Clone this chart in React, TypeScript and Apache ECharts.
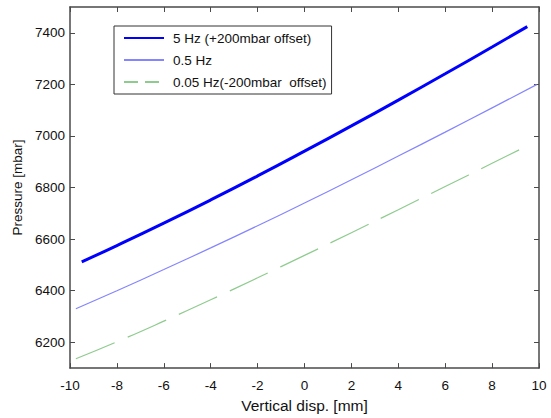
import React, { useEffect, useRef } from "react";
import * as echarts from "echarts";

const xFast = [-9.5, -8, -6, -4, -2, 0, 2, 4, 6, 8, 9.5];
const pFast = [6512, 6575, 6662, 6752, 6845, 6941, 7039, 7139, 7241, 7345, 7424];
const xMid = [-9.75, -8, -6, -4, -2, 0, 2, 4, 6, 8, 9.9];
const pMid = [6330, 6400, 6482, 6566, 6652, 6740, 6830, 6922, 7015, 7109, 7199];
const xSlow = [-9.75, -8, -6, -4, -2, 0, 2, 4, 6, 8, 9.35];
const pSlow = [6136, 6202, 6282, 6365, 6450, 6537, 6625, 6714, 6804, 6894, 6955];

const seriesNames = ["5 Hz (+200mbar offset)", "0.5 Hz", "0.05 Hz(-200mbar  offset)"];
const yTicks = [6200, 6400, 6600, 6800, 7000, 7200, 7400];

const FONT = "Liberation Sans, Arial, Helvetica, sans-serif";
const AX = "#4a4a4a";

export default function App() {
  const ref = useRef<HTMLDivElement>(null);
  useEffect(() => {
    const chart = echarts.init(ref.current!, null, { renderer: "svg" });
    const pair = (xs: number[], ys: number[]) => xs.map((x, i) => [x, ys[i]]);
    const xBase = {
      type: "value",
      min: -10,
      max: 10,
      interval: 2,
      splitLine: { show: false },
      axisLine: { show: true, onZero: false, lineStyle: { color: AX, width: 1.5 } },
      axisTick: { show: true, inside: true, length: 5, lineStyle: { color: AX } },
    };
    const yBase = {
      type: "value",
      min: 6100,
      max: 7500,
      splitLine: { show: false },
      axisLine: { show: true, onZero: false, lineStyle: { color: AX, width: 1.5 } },
      axisTick: { show: true, inside: true, length: 5, customValues: yTicks, lineStyle: { color: AX } },
    };
    chart.setOption({
      animation: false,
      backgroundColor: "#fff",
      textStyle: { fontFamily: FONT },
      grid: { left: 70, right: 12, top: 7, bottom: 40 },
      legend: {
        orient: "vertical",
        left: 114,
        top: 26,
        padding: [4, 5, 4, 9],
        itemWidth: 40,
        itemHeight: 14,
        itemGap: 6,
        borderColor: "#333",
        borderWidth: 1,
        backgroundColor: "#fff",
        itemStyle: { opacity: 0 },
        textStyle: { fontSize: 13.5, color: "#111", fontFamily: FONT, lineHeight: 16, padding: [0, 0, 0, 4] },
        data: [
          { name: seriesNames[0] },
          { name: seriesNames[1] },
          { name: seriesNames[2], lineStyle: { type: [14, 7] } },
        ],
      },
      xAxis: [
        {
          ...xBase,
          position: "bottom",
          name: "Vertical disp. [mm]",
          nameLocation: "middle",
          nameGap: 26,
          nameTextStyle: { fontSize: 15.5, color: "#111", fontFamily: FONT },
          axisLabel: { fontSize: 13.5, color: "#111", margin: 10, fontFamily: FONT },
        },
        { ...xBase, position: "top", axisLabel: { show: false } },
      ],
      yAxis: [
        {
          ...yBase,
          position: "left",
          name: "Pressure [mbar]",
          nameLocation: "middle",
          nameGap: 41,
          nameTextStyle: { fontSize: 13.5, color: "#111", fontFamily: FONT },
          axisLabel: {
            fontSize: 13.5,
            color: "#111",
            margin: 5,
            customValues: yTicks,
            fontFamily: FONT,
            formatter: (v: number) => String(v),
          },
        },
        { ...yBase, position: "right", axisLabel: { show: false } },
      ],
      series: [
        {
          name: seriesNames[0],
          type: "line",
          data: pair(xFast, pFast),
          smooth: true,
          symbol: "none",
          lineStyle: { color: "#0000ff", width: 3 },
          itemStyle: { color: "#0000ff" },
        },
        {
          name: seriesNames[1],
          type: "line",
          data: pair(xMid, pMid),
          smooth: true,
          symbol: "none",
          lineStyle: { color: "#8585ff", width: 1.2 },
          itemStyle: { color: "#8585ff" },
        },
        {
          name: seriesNames[2],
          type: "line",
          data: pair(xSlow, pSlow),
          smooth: true,
          symbol: "none",
          lineStyle: { color: "#8fcb8f", width: 1.2, type: [42, 14] },
          itemStyle: { color: "#8fcb8f" },
        },
      ],
    });
    return () => chart.dispose();
  }, []);
  return (
    <div
      ref={ref}
      style={{ position: "fixed", left: 0, top: 0, width: 551, height: 418 }}
    />
  );
}
